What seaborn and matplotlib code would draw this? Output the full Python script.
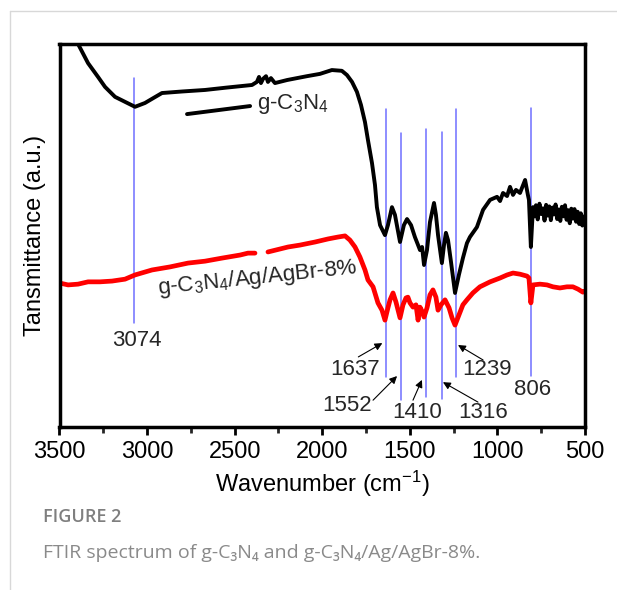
import numpy as np
import pandas as pd
import matplotlib
matplotlib.use("Agg")
import matplotlib.pyplot as plt
from matplotlib.lines import Line2D
import seaborn as sns

# ---------------- data ----------------
black_wn = [3500, 3394, 3337, 3280, 3240, 3183, 3126, 3069, 3012, 2960, 2915, 2800, 2669, 2550, 2401,
            2373, 2361, 2350, 2338, 2321, 2310, 2293, 2270, 2200, 2087, 2013, 1945, 1888, 1859,
            1830, 1802, 1779, 1756, 1739, 1716, 1699, 1688, 1670, 1642, 1625, 1602, 1585, 1556,
            1534, 1516, 1493, 1471, 1453, 1442, 1430, 1419, 1402, 1385, 1374, 1362, 1351, 1339,
            1317, 1305, 1294, 1282, 1265, 1242, 1220, 1197, 1174, 1157, 1117, 1082, 1042, 1002,
            985, 968, 945, 928, 911, 894, 871, 860, 842, 826, 820, 809, 797,
            790, 780, 770, 760, 750, 740, 731, 722, 713, 704, 695, 686, 677, 668, 659, 650, 641,
            632, 623, 614, 605, 596, 587, 578, 569, 560, 551, 542, 533, 524, 515, 506, 500]
black_t = [108.0, 100.0, 95.0, 91.4, 88.8, 86.2, 84.9, 83.6, 84.6, 86.0, 87.2, 87.6, 88.0, 88.6, 89.3,
           90.1, 91.4, 89.8, 90.9, 91.6, 90.1, 91.1, 89.8, 90.6, 91.6, 92.2, 93.2, 93.0, 91.9,
           90.1, 87.5, 84.1, 79.6, 74.9, 68.9, 63.2, 57.4, 52.7, 50.1, 52.7, 57.4, 55.4, 48.3,
           52.7, 54.3, 52.7, 49.6, 47.5, 46.2, 47.0, 42.3, 46.2, 53.5, 55.9, 58.5, 55.4, 50.1,
           42.8, 47.5, 50.7, 48.8, 43.1, 35.0, 39.7, 44.1, 48.0, 49.6, 52.2, 56.7, 59.3, 60.1,
           59.0, 61.1, 60.3, 62.7, 60.6, 61.9, 61.1, 62.4, 64.5, 60.6, 59.3, 47.0, 57.4,
           55.0, 57.9, 54.2, 58.3, 55.6, 57.1, 53.9, 58.0, 55.2, 57.6, 54.0, 57.3, 55.5, 58.1, 54.3,
           56.8, 53.8, 57.5, 55.0, 57.9, 54.1, 56.6, 53.2, 57.0, 54.4, 56.9, 53.6, 56.2, 53.0, 55.8,
           52.6, 55.0, 53.9]

red_wn_a = [3500, 3451, 3394, 3337, 3269, 3200, 3126, 3069, 2972, 2869, 2766, 2669, 2572, 2469,
            2424, 2384]
red_t_a = [37.6, 37.1, 37.3, 37.9, 37.9, 38.1, 38.6, 39.7, 41.0, 41.8, 42.8, 43.3, 44.1, 44.9,
           45.4, 45.4]
red_wn_b = [2310, 2195, 2127, 2041, 1967, 1910, 1870, 1842, 1813, 1785, 1756, 1739, 1710, 1682,
            1659, 1642, 1625, 1613, 1596, 1579, 1556, 1539, 1522, 1511, 1499, 1482, 1465, 1453,
            1442, 1431, 1419, 1402, 1385, 1368, 1351, 1339, 1322, 1299, 1276, 1259, 1242, 1220,
            1197, 1174, 1140, 1100, 1042, 985, 945, 911, 871, 831, 820, 809, 797, 757, 717, 683,
            643, 603, 569, 540, 512, 500]
red_t_b = [45.7, 47.0, 47.5, 48.3, 49.1, 49.6, 49.9, 48.8, 47.0, 44.4, 41.0, 38.4, 36.6, 32.4,
           30.5, 27.9, 31.1, 33.2, 35.0, 32.6, 28.5, 31.9, 33.7, 33.9, 32.4, 31.3, 31.9, 27.9,
           31.3, 30.3, 28.7, 31.1, 34.5, 35.8, 33.9, 30.5, 31.9, 33.2, 31.1, 28.5, 26.6, 29.2,
           31.9, 33.2, 35.0, 36.6, 37.9, 38.9, 39.7, 40.2, 39.9, 39.4, 38.9, 32.4, 37.1, 37.3,
           37.1, 36.6, 36.3, 36.6, 36.6, 36.0, 35.2, 35.5]

peak_wn = [3074, 1637, 1552, 1410, 1316, 1239, 806]
peak_top = [91.1, 83.0, 76.8, 77.8, 77.0, 83.0, 83.3]
peak_bottom = [27.2, 13.1, 7.0, 7.8, 7.3, 13.1, 13.3]

label_black = "g-C$_3$N$_4$"
label_red = "g-C$_3$N$_4$/Ag/AgBr-8%"
x_ticks = [3500, 3000, 2500, 2000, 1500, 1000, 500]

# ---------------- style ----------------
sns.set_theme(style="ticks")
plt.rcParams["font.family"] = ["Liberation Sans", "DejaVu Sans"]
plt.rcParams["mathtext.fontset"] = "custom"
plt.rcParams["mathtext.rm"] = "Liberation Sans"
plt.rcParams["mathtext.it"] = "Liberation Sans:italic"
plt.rcParams["mathtext.bf"] = "Liberation Sans:bold"

fig = plt.figure(figsize=(6.17, 5.90), dpi=100)
fig.patch.set_facecolor("white")
ax = fig.add_axes([59.5 / 617, 1 - 427 / 590, (585 - 59.5) / 617, (427 - 44) / 590])
ax.set_facecolor("white")

df_black = pd.DataFrame({"wn": black_wn, "t": black_t})
df_red = pd.DataFrame({
    "wn": red_wn_a + red_wn_b,
    "t": red_t_a + red_t_b,
    "seg": ["a"] * len(red_wn_a) + ["b"] * len(red_wn_b),
})

sns.lineplot(data=df_red, x="wn", y="t", units="seg", estimator=None, sort=False,
             color="#ff0000", linewidth=3.4, ax=ax)
sns.lineplot(data=df_black, x="wn", y="t", estimator=None, sort=False,
             color="black", linewidth=2.8, ax=ax)

# peak marker lines
for w, t0, t1 in zip(peak_wn, peak_top, peak_bottom):
    ax.plot([w, w], [t1, t0], color="#6f6fff", linewidth=1.1, zorder=1)

ax.set_xlim(3500, 500)
ax.set_ylim(0, 100)
ax.set_xticks(x_ticks)
ax.set_xticklabels([str(v) for v in x_ticks])
ax.set_xticks([3250, 2750, 2250, 1750, 1250, 750], minor=True)
ax.set_yticks([])
ax.tick_params(axis="x", which="major", direction="out", length=6, width=2,
               labelsize=17, pad=4, colors="black")
ax.tick_params(axis="x", which="minor", direction="out", length=4, width=2)
for s in ax.spines.values():
    s.set_linewidth(2.5)
    s.set_color("black")
    s.set_visible(True)

ax.set_xlabel("Wavenumber (cm$^{-1}$)", fontsize=17, labelpad=4, color="black")
ax.set_ylabel("Tansmittance (a.u.)", fontsize=17, labelpad=10, color="black")

# series labels
ax.plot([2772, 2412], [81.7, 83.8], color="black", linewidth=2.8)
ax.text(2372, 84.3, label_black, fontsize=16, ha="left", va="center")
ax.text(2372, 38.9, label_red, fontsize=16, ha="center", va="center", rotation=6)

# peak labels
ax.text(3058, 22.7, "3074", fontsize=16, ha="center", va="center")
ax.text(797, 9.9, "806", fontsize=16, ha="center", va="center")

arrow_kw = dict(arrowstyle="-|>", color="black", lw=0.8, mutation_scale=11,
                shrinkA=0, shrinkB=0)
ax.text(1670, 14.9, "1637", fontsize=16, ha="right", va="center")
ax.annotate("", xy=(1657, 21.9), xytext=(1794, 18.3), arrowprops=arrow_kw)
ax.text(1716, 5.5, "1552", fontsize=16, ha="right", va="center")
ax.annotate("", xy=(1573, 13.3), xytext=(1710, 7.0), arrowprops=arrow_kw)
ax.text(1459, 3.9, "1410", fontsize=16, ha="center", va="center")
ax.annotate("", xy=(1431, 12.3), xytext=(1482, 7.0), arrowprops=arrow_kw)
ax.text(1082, 3.7, "1316", fontsize=16, ha="center", va="center")
ax.annotate("", xy=(1311, 11.7), xytext=(1111, 6.5), arrowprops=arrow_kw)
ax.text(1059, 14.9, "1239", fontsize=16, ha="center", va="center")
ax.annotate("", xy=(1225, 21.4), xytext=(1082, 17.5), arrowprops=arrow_kw)

# page frame and caption
fig.add_artist(Line2D([10 / 617, 10 / 617], [0, 1 - 11 / 590], transform=fig.transFigure,
                      color="#d8d8d8", linewidth=1))
fig.add_artist(Line2D([10 / 617, 1], [1 - 11 / 590, 1 - 11 / 590], transform=fig.transFigure,
                      color="#d8d8d8", linewidth=1))
fig.text(43 / 617, 1 - 517 / 590, "FIGURE 2", fontsize=13, color="#7f7f7f",
         family=["Open Sans", "DejaVu Sans"], fontweight="semibold", ha="left", va="center")
fig.text(43 / 617, 1 - 553 / 590,
         "FTIR spectrum of g-C\u2083N\u2084 and g-C\u2083N\u2084/Ag/AgBr-8%.",
         fontsize=14, color="#8a8a8a", family=["Open Sans", "DejaVu Sans"],
         ha="left", va="center")

fig.savefig("out.png", dpi=100, facecolor="white")
